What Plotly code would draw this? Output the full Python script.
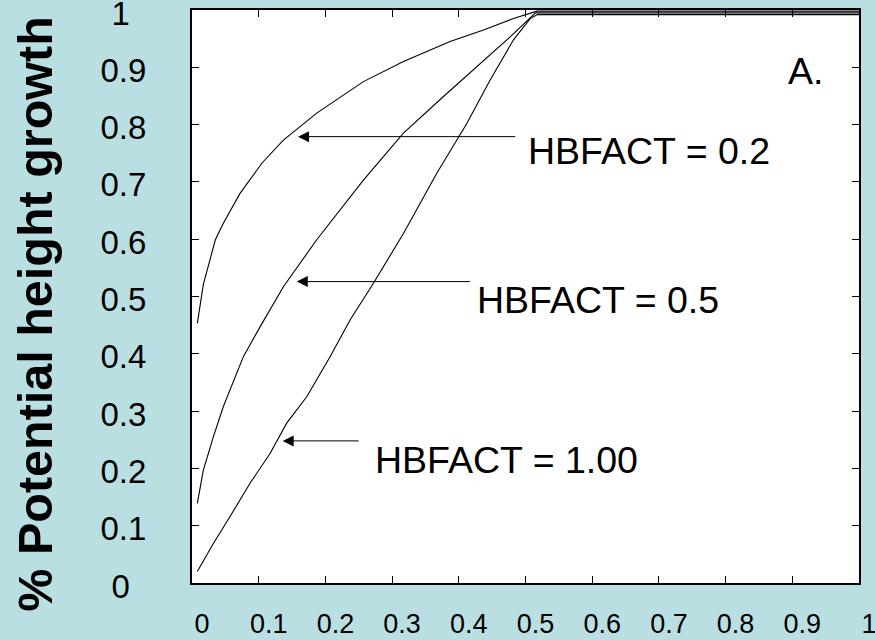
import plotly.graph_objects as go

# Relative position in crown (x) vs. fraction of potential height growth (y)
x_hb02 = [0.008, 0.017, 0.035, 0.047, 0.072, 0.105, 0.137, 0.187, 0.257, 0.317, 0.387, 0.437, 0.482, 0.517, 1.0]
y_hb02 = [0.453, 0.521, 0.599, 0.628, 0.680, 0.733, 0.773, 0.820, 0.875, 0.910, 0.945, 0.965, 0.985, 0.998, 0.998]

x_hb05 = [0.008, 0.017, 0.032, 0.047, 0.077, 0.102, 0.137, 0.187, 0.257, 0.317, 0.377, 0.427, 0.477, 0.515, 1.0]
y_hb05 = [0.139, 0.197, 0.255, 0.308, 0.395, 0.447, 0.517, 0.599, 0.703, 0.785, 0.849, 0.901, 0.953, 0.995, 0.995]

x_hb10 = [0.008, 0.032, 0.057, 0.087, 0.117, 0.142, 0.172, 0.207, 0.237, 0.272, 0.317, 0.367, 0.412, 0.447, 0.482, 0.507, 0.518, 1.0]
y_hb10 = [0.020, 0.069, 0.116, 0.174, 0.226, 0.279, 0.325, 0.395, 0.459, 0.523, 0.610, 0.715, 0.802, 0.878, 0.948, 0.985, 0.992, 0.992]

tick_vals = [0, 0.1, 0.2, 0.3, 0.4, 0.5, 0.6, 0.7, 0.8, 0.9, 1]
x_tick_text = ["0", "0.1", "0.2", "0.3", "0.4", "0.5", "0.6", "0.7", "0.8", "0.9", "1"]
# single-digit labels padded with an en space so the column reads centred
y_tick_text = ["0\u2002", "0.1", "0.2", "0.3", "0.4", "0.5", "0.6", "0.7", "0.8", "0.9", "1\u2002"]

curve_labels = ["HBFACT = 0.2", "HBFACT = 0.5", "HBFACT = 1.00"]

FONT = "Liberation Sans, Arial, sans-serif"
BG = "#BADFE2"

fig = go.Figure()
for xs, ys, name in [(x_hb02, y_hb02, curve_labels[0]),
                     (x_hb05, y_hb05, curve_labels[1]),
                     (x_hb10, y_hb10, curve_labels[2])]:
    fig.add_trace(go.Scatter(x=xs, y=ys, mode="lines", name=name,
                             line=dict(color="black", width=1.1),
                             showlegend=False, hoverinfo="skip"))

axis_common = dict(
    range=[0, 1], tickvals=tick_vals,
    ticks="inside", ticklen=7, tickwidth=1, tickcolor="black",
    showline=True, linecolor="black", linewidth=2, mirror="ticks",
    showgrid=False, zeroline=False, ticklabeloverflow="allow",
    automargin=False,
)

fig.update_xaxes(**axis_common, ticktext=x_tick_text,
                 tickfont=dict(family=FONT, size=27, color="black"),
                 ticklabelstandoff=16, ticklabelshift=10)
fig.update_yaxes(**axis_common, ticktext=y_tick_text,
                 tickfont=dict(family=FONT, size=33, color="black"),
                 ticklabelstandoff=37, ticklabelshift=3)

# Arrow callouts: (label text x, text y, arrow head x, head y, tail x)
callouts = [
    (curve_labels[0], 0.500, 0.754, 0.159, 0.779, 0.487),
    (curve_labels[1], 0.424, 0.494, 0.157, 0.526, 0.419),
    (curve_labels[2], 0.271, 0.2147, 0.136, 0.248, 0.252),
]
for text, tx, ty, hx, hy, tailx in callouts:
    fig.add_annotation(x=hx, y=hy, ax=tailx, ay=hy, xref="x", yref="y",
                       axref="x", ayref="y", text="", showarrow=True,
                       arrowhead=2, arrowsize=2.2, arrowwidth=1, arrowcolor="black")
    fig.add_annotation(x=tx, y=ty, xref="x", yref="y", text=text, showarrow=False,
                       xanchor="left", yanchor="middle",
                       font=dict(family=FONT, size=37.5, color="black"))

fig.add_annotation(x=0.890, y=0.8935, xref="x", yref="y", text="A.", showarrow=False,
                   xanchor="left", yanchor="middle",
                   font=dict(family=FONT, size=37.5, color="black"))

fig.add_annotation(x=-0.2354, y=0.470, xref="paper", yref="paper",
                   text="<b>% Potential height growth</b>", showarrow=False,
                   textangle=-90, xanchor="center", yanchor="middle",
                   font=dict(family=FONT, size=48.5, color="black"))

fig.update_layout(
    width=875, height=640,
    margin=dict(l=192, r=16, t=10, b=57, pad=0, autoexpand=False),
    paper_bgcolor=BG, plot_bgcolor="white",
)

fig.write_html("out.html")
